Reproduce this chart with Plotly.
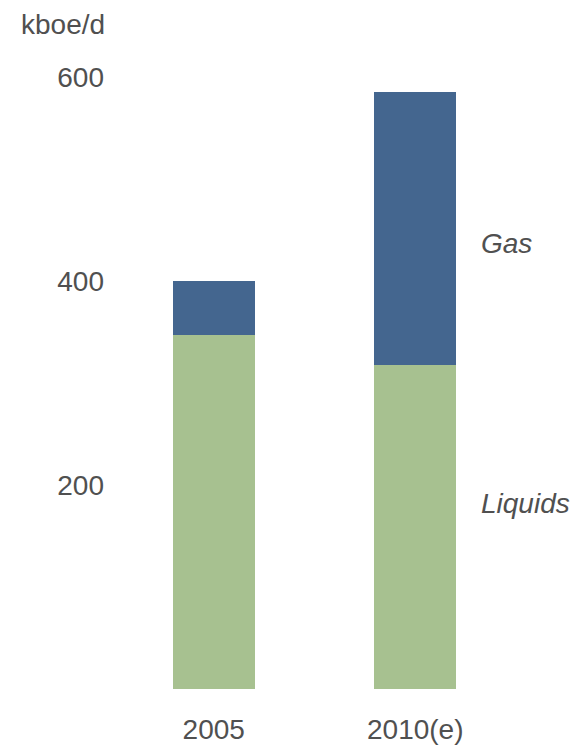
import plotly.graph_objects as go

# Production by type, kboe/d
years = ["2005", "2010(e)"]
liquids = [347, 318]
gas = [53, 267]
series_names = ["Liquids", "Gas"]
y_ticks = [200, 400, 600]

GREEN = "#a7c190"
BLUE = "#44668f"
TEXT = "#505050"
FONT = "Liberation Sans, Arial, sans-serif"

# Plot area geometry (px)
W, H = 576, 746
L, R, T, B = 113, 60, 77, 57
PW, PH = W - L - R, H - T - B

fig = go.Figure()
fig.add_trace(go.Bar(x=years, y=liquids, name=series_names[0],
                     marker=dict(color=GREEN, line=dict(width=0)), width=0.405))
fig.add_trace(go.Bar(x=years, y=gas, name=series_names[1],
                     marker=dict(color=BLUE, line=dict(width=0)), width=0.405))

# Series labels to the right of the last bar
fig.add_annotation(x=1.5, y=437, xref="x", yref="y", text="<i>Gas</i>",
                   showarrow=False, xanchor="left", xshift=-37,
                   font=dict(size=28, color=TEXT, family=FONT))
fig.add_annotation(x=1.5, y=182, xref="x", yref="y", text="<i>Liquids</i>",
                   showarrow=False, xanchor="left", xshift=-37,
                   font=dict(size=28, color=TEXT, family=FONT))
# Unit label in the top-left corner
fig.add_annotation(x=(19 - L) / PW, y=(H - B - 24) / PH,
                   xref="paper", yref="paper",
                   text="kboe/d", showarrow=False,
                   xanchor="left", yanchor="middle",
                   font=dict(size=28, color=TEXT, family=FONT))

fig.update_layout(
    barmode="stack",
    width=W, height=H,
    margin=dict(l=L, r=R, t=T, b=B),
    paper_bgcolor="white", plot_bgcolor="white",
    showlegend=False,
    font=dict(family=FONT, size=28, color=TEXT),
    xaxis=dict(range=[-0.5, 1.5], showgrid=False, showline=False,
               zeroline=False, ticks="", ticklabelstandoff=21,
               automargin=False),
    yaxis=dict(range=[0, 600], tickvals=y_ticks, showgrid=False,
               showline=False, zeroline=False, ticks="", ticklabelstandoff=8,
               automargin=False),
)

fig.write_html("out.html")
